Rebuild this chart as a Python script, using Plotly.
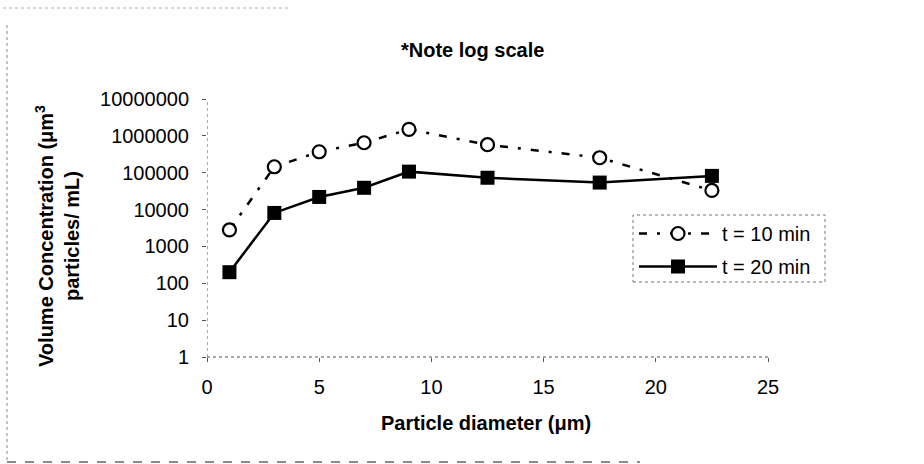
import plotly.graph_objects as go

# Particle size distribution at two sampling times
diameter_um = [1, 3, 5, 7, 9, 12.5, 17.5, 22.5]
conc_t10 = [2800, 145000, 370000, 650000, 1500000, 575000, 255000, 33000]
conc_t20 = [200, 8100, 22000, 39000, 107000, 73000, 54000, 82000]

y_tick_vals = [1, 10, 100, 1000, 10000, 100000, 1000000, 10000000]
y_tick_text = ["1", "10", "100", "1000", "10000", "100000", "1000000", "10000000"]
x_tick_vals = [0, 5, 10, 15, 20, 25]

FONT = "Liberation Sans, Arial, sans-serif"
W, H = 924, 464
L, R, T, B = 207, 156, 99, 107


def px_x(p):
    return (p - L) / (W - L - R)


def px_y(p):
    return (H - B - p) / (H - T - B)


fig = go.Figure()
fig.add_trace(go.Scatter(
    x=diameter_um, y=conc_t10, name="t = 10 min", mode="lines+markers",
    legendgroup="t10",
    line=dict(color="black", width=2.5, dash="8px,10px,3px,10px"),
    marker=dict(symbol="circle", size=13, color="white",
                line=dict(width=2.2, color="black")),
))
fig.add_trace(go.Scatter(
    x=diameter_um, y=conc_t20, name="t = 20 min", mode="lines+markers",
    legendgroup="t20",
    line=dict(color="black", width=2.5),
    marker=dict(symbol="square", size=14, color="black"),
))

shapes = [
    # dotted axis lines
    dict(type="line", xref="x", yref="paper", x0=0, x1=0, y0=0, y1=1,
         line=dict(color="#555", width=1, dash="dot"), layer="below"),
    dict(type="line", xref="paper", yref="paper", x0=0, x1=1, y0=0, y1=0,
         line=dict(color="#555", width=1, dash="dot"), layer="below"),
    # legend frame
    dict(type="rect", xref="paper", yref="paper", x0=px_x(633), x1=px_x(825),
         y0=px_y(282), y1=px_y(215), line=dict(color="#777", width=1, dash="dot")),
    # outer frame
    dict(type="line", xref="paper", yref="paper", x0=px_x(7), x1=px_x(7),
         y0=px_y(25), y1=px_y(462), line=dict(color="#888", width=1, dash="dot")),
    dict(type="line", xref="paper", yref="paper", x0=px_x(7), x1=px_x(640),
         y0=px_y(462), y1=px_y(462), line=dict(color="#666", width=1.5, dash="dash")),
    dict(type="line", xref="paper", yref="paper", x0=px_x(3), x1=px_x(290),
         y0=px_y(8), y1=px_y(8), line=dict(color="#aaa", width=1, dash="dot")),
]

annotations = [
    dict(text="<b>*Note log scale</b>", xref="paper", yref="paper",
         x=px_x(472), y=px_y(50), xanchor="center", yanchor="middle",
         showarrow=False, font=dict(family=FONT, size=20, color="black")),
    dict(text="<b>Volume Concentration (μm<sup>3</sup><br>particles/ mL)</b>",
         xref="paper", yref="paper", x=px_x(57), y=px_y(236),
         xanchor="center", yanchor="middle",
         showarrow=False, textangle=-90,
         font=dict(family=FONT, size=20, color="black")),
    dict(text="<b>Particle diameter (μm)</b>", xref="paper", yref="paper",
         x=px_x(486), y=px_y(423), xanchor="center", yanchor="middle",
         showarrow=False, font=dict(family=FONT, size=20, color="black")),
]

fig.update_layout(
    width=W, height=H,
    margin=dict(l=L, r=R, t=T, b=B),
    paper_bgcolor="white", plot_bgcolor="white",
    font=dict(family=FONT, size=20, color="black"),
    showlegend=True,
    legend=dict(x=px_x(634), y=px_y(214), xanchor="left", yanchor="top",
                bgcolor="rgba(0,0,0,0)", borderwidth=0, itemwidth=78,
                font=dict(family=FONT, size=20, color="black"),
                tracegroupgap=4),
    shapes=shapes,
    annotations=annotations,
)
fig.update_xaxes(range=[0, 25], tickvals=x_tick_vals, ticks="outside",
                 ticklen=4, tickcolor="#555", showline=False, showgrid=False,
                 zeroline=False, ticklabelstandoff=8,
                 tickfont=dict(family=FONT, size=20))
fig.update_yaxes(type="log", range=[0, 7], tickvals=y_tick_vals,
                 ticktext=y_tick_text, ticks="outside", ticklen=4,
                 tickcolor="#555", showline=False, showgrid=False,
                 zeroline=False, ticklabelstandoff=9,
                 tickfont=dict(family=FONT, size=20))

fig.write_html("out.html")
